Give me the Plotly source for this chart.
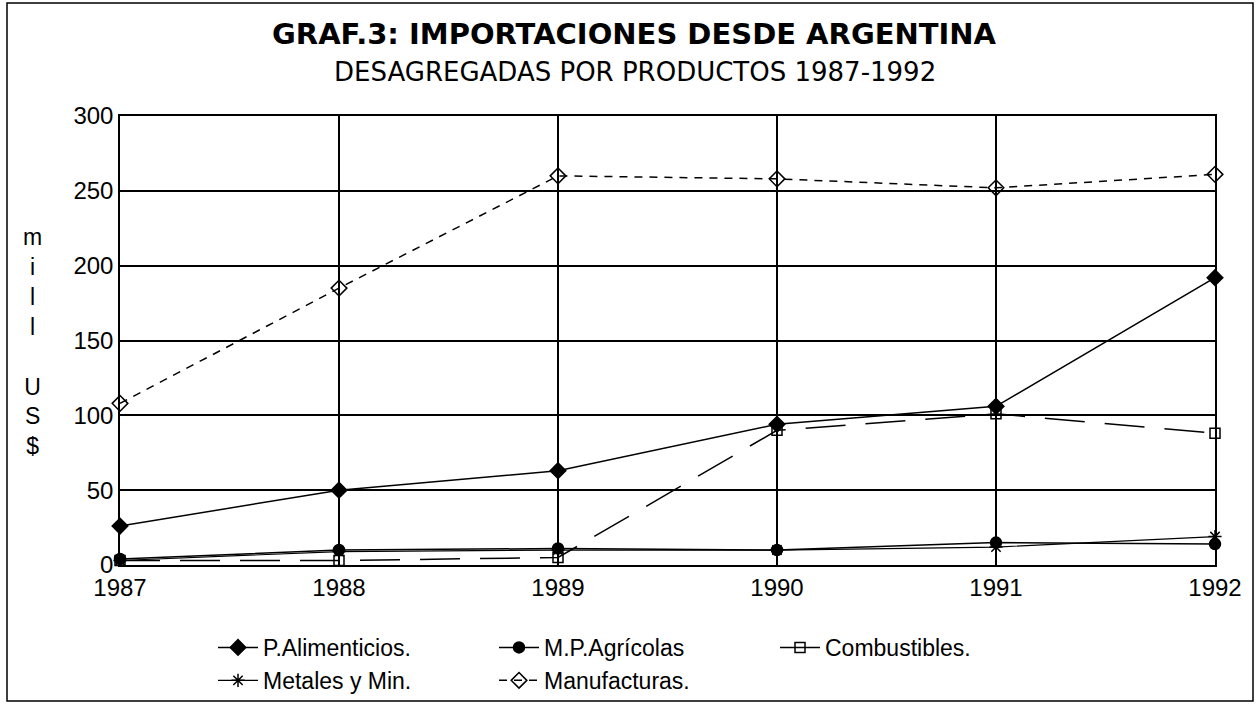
import plotly.graph_objects as go

years = [1987, 1988, 1989, 1990, 1991, 1992]
p_alimenticios = [26, 50, 63, 94, 106, 192]
mp_agricolas = [4, 10, 11, 10, 15, 14]
combustibles = [3, 3, 5, 90, 101, 88]
metales = [3, 9, 10, 10, 12, 19]
manufacturas = [108, 185, 260, 258, 252, 261]

series_names = ["P.Alimenticios.", "M.P.Agrícolas", "Combustibles.", "Metales y Min.", "Manufacturas."]
y_ticks = [0, 50, 100, 150, 200, 250, 300]

W, H = 1257, 704
L, R, T, B = 120, 42, 116, 139
pw, ph = W - L - R, H - T - B

def px_x(p):
    return (p - L) / pw

def px_y(p):
    return (H - B - p) / ph

FONT = "Liberation Sans, Arial, sans-serif"
TFONT = "DejaVu Sans, Liberation Sans, sans-serif"

fig = go.Figure()
styles = [
    (p_alimenticios, "diamond", 12, "solid", 1.5),
    (mp_agricolas, "circle", 11, "solid", 1.5),
    (combustibles, "square-open", 10, "40px,20px", 1.5),
    (metales, "asterisk-open", 11, "solid", 1.2),
    (manufacturas, "diamond-open", 12, "8px,7px", 1.5),
]
for name, (vals, sym, size, dash, lw) in zip(series_names, styles):
    fig.add_trace(go.Scatter(
        x=years, y=vals, name=name, mode="lines+markers",
        line=dict(color="black", width=lw, dash=dash),
        marker=dict(symbol=sym, size=size, color="black",
                    line=dict(color="black", width=1.5)),
        cliponaxis=False,
    ))

fig.update_layout(
    width=W, height=H,
    margin=dict(l=L, r=R, t=T, b=B, autoexpand=False),
    paper_bgcolor="white", plot_bgcolor="white",
    font=dict(family=FONT, color="black", size=23),
    showlegend=True,
    legend=dict(
        orientation="h", x=px_x(213), y=px_y(626), xanchor="left", yanchor="top",
        entrywidth=226, itemwidth=40, font=dict(size=23, family=FONT),
        bgcolor="rgba(0,0,0,0)", tracegroupgap=0,
    ),
    xaxis=dict(
        range=[1987, 1992], tickmode="array", tickvals=years,
        ticktext=[str(y) for y in years],
        showgrid=True, gridcolor="black", gridwidth=1.5,
        showline=True, linecolor="black", linewidth=1.5, mirror=True,
        zeroline=False, ticks="", tickfont=dict(size=24, family=FONT),
    ),
    yaxis=dict(
        range=[0, 300], tickmode="array", tickvals=y_ticks,
        showgrid=True, gridcolor="black", gridwidth=1.5,
        showline=True, linecolor="black", linewidth=1.5, mirror=True,
        zeroline=False, ticks="", tickfont=dict(size=24, family=FONT),
    ),
    shapes=[dict(
        type="rect", xref="paper", yref="paper",
        x0=px_x(7), x1=px_x(1253), y0=px_y(701), y1=px_y(3),
        line=dict(color="black", width=1.5), fillcolor="rgba(0,0,0,0)", layer="below",
    )],
    annotations=[
        dict(text="<b>GRAF.3: IMPORTACIONES DESDE ARGENTINA</b>", xref="paper", yref="paper",
             x=px_x(634), y=px_y(34), showarrow=False, xanchor="center", yanchor="middle",
             font=dict(size=29, family=TFONT)),
        dict(text="DESAGREGADAS POR PRODUCTOS 1987-1992", xref="paper", yref="paper",
             x=px_x(635), y=px_y(72), showarrow=False, xanchor="center", yanchor="middle",
             font=dict(size=26, family=TFONT)),
        dict(text="m<br>i<br>l<br>l<br><br>U<br>S<br>$", xref="paper", yref="paper",
             x=px_x(32), y=px_y(341), showarrow=False, xanchor="center", yanchor="middle",
             align="center", font=dict(size=23, family=FONT)),
    ],
)

fig.write_html(
    "out.html",
    config={"displayModeBar": False},
    post_script="document.body.style.margin='0';document.body.style.padding='0';document.documentElement.style.overflow='hidden';",
)
